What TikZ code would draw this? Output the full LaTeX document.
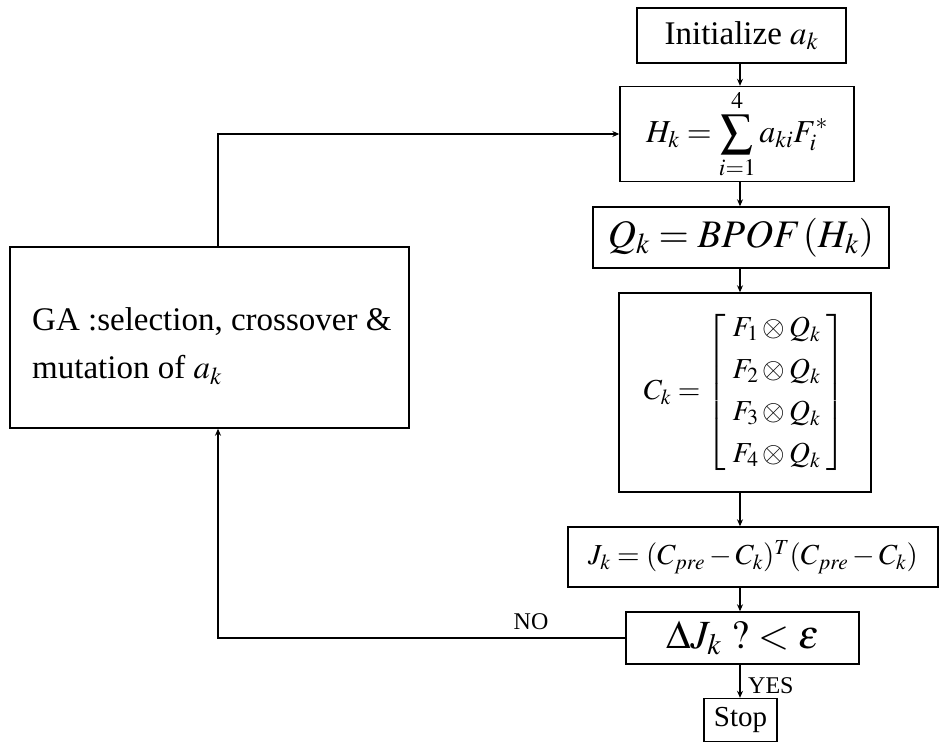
\documentclass[tikz,border=0pt]{standalone}
\usepackage{amsmath}
\usepackage{mathptmx}
\usepackage[no-math]{fontspec}
\setmainfont{Liberation Serif}
\usetikzlibrary{arrows.meta}
\begin{document}
\begin{tikzpicture}[x=1pt,y=-1pt,
  box/.style={draw=black,line width=1.4pt,rectangle,inner sep=0pt,align=center},
  arr/.style={draw=black,line width=1.3pt,-{Stealth[length=7pt,width=6pt]}},
  lbl/.style={font=\fontsize{24}{28}\selectfont,inner sep=0pt}]
\useasboundingbox (0,0) rectangle (949,743);
\node[box,minimum width=209pt,minimum height=55pt,font=\fontsize{33}{38}\selectfont] (init) at (741.5,35.5) {Initialize $a_k$};
\node[box,minimum width=234pt,minimum height=95pt,font=\fontsize{32}{38}\selectfont] (H) at (737,134) {$\displaystyle H_k=\sum_{i=1}^{4}a_{ki}F_i^{*}$};
\node[box,minimum width=296pt,minimum height=61pt,font=\fontsize{39}{44}\selectfont] (Q) at (741,237.5) {$Q_k=\mathit{BPOF}\,(H_k)$};
\node[box,minimum width=252pt,minimum height=199pt,font=\fontsize{29}{34}\selectfont] (C) at (745,392.5) {$C_k=\begin{bmatrix}\;F_1\otimes Q_k\;\\[8pt] \;F_2\otimes Q_k\;\\[8pt] \;F_3\otimes Q_k\;\\[8pt] \;F_4\otimes Q_k\;\end{bmatrix}$};
\node[box,minimum width=370pt,minimum height=60pt,font=\fontsize{29}{34}\selectfont] (J) at (753,557) {$J_k=(C_{pre}-C_k)^T(C_{pre}-C_k)$};
\node[box,minimum width=233pt,minimum height=52pt,font=\fontsize{40}{46}\selectfont] (D) at (742.5,638) {$\Delta J_k\ ?<\varepsilon$};
\node[box,minimum width=73pt,minimum height=43pt,font=\fontsize{29}{32}\selectfont] (stop) at (740.5,720) {Stop};
\node[box,minimum width=399pt,minimum height=181pt] (GA) at (209.5,337.5) {};
\node[font=\fontsize{33}{48}\selectfont,align=left,anchor=west,inner sep=0pt] (GAt) at (32,346) {GA :selection, crossover \&\\mutation of $a_k$};
\coordinate (ax) at (740,0);
\coordinate (lx) at (218,0);
\draw[arr] (init.south -| ax) -- (H.north -| ax);
\draw[arr] (H.south -| ax) -- (Q.north -| ax);
\draw[arr] (Q.south -| ax) -- (C.north -| ax);
\draw[arr] (C.south -| ax) -- (J.north -| ax);
\draw[arr] (J.south -| ax) -- (D.north -| ax);
\draw[arr] (D.south -| ax) -- (stop.north -| ax);
\draw[arr] (D.west) -- (D.west -| lx) -- (GA.south -| lx);
\draw[arr] (GA.north -| lx) -- (H.west -| lx) -- (H.west);
\node[lbl] (no) at (531,622) {NO};
\node[lbl,anchor=west] (yes) at (748,686) {YES};
\end{tikzpicture}
\end{document}
